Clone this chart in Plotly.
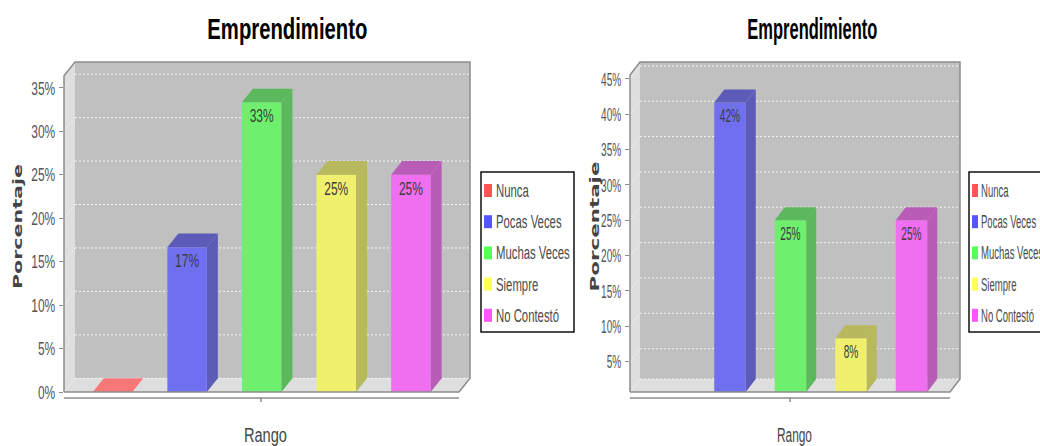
import plotly.graph_objects as go

categories = ["Nunca", "Pocas Veces", "Muchas Veces", "Siempre", "No Contestó"]
values_left = [0, 16.67, 33.33, 25, 25]
values_right = [0, 41.67, 25, 8.33, 25]
labels_left = ["", "17%", "33%", "25%", "25%"]
labels_right = ["", "42%", "25%", "8%", "25%"]
ticks_left = [0, 5, 10, 15, 20, 25, 30, 35]
ticks_right = [5, 10, 15, 20, 25, 30, 35, 40, 45]
chart_title = "Emprendimiento"
y_title = "Porcentaje"
x_title = "Rango"

front = ["#f87878", "#6f6ff0", "#6ef06e", "#f0f06e", "#f06ef0"]
shade = ["#b85c5c", "#5c5cb8", "#5cb85c", "#b8b85c", "#b85cb8"]
swatch = ["#ff5555", "#5555ff", "#55ff55", "#ffff55", "#ff55ff"]

W, H = 1040, 446
FONT = "Liberation Sans"


def px(x):
    return x / W


def py(y):
    return 1 - y / H


fig = go.Figure()


def poly(pts):
    return "M" + "L".join(f"{px(a)},{py(b)}" for a, b in pts) + "Z"


def paper(**kw):
    return dict(xref="paper", yref="paper", **kw)


def panel(n, vals, labels, ticks, cfg):
    xa, ya = ("x", "y") if n == 1 else (f"x{n}", f"y{n}")
    axx, axy = ("xaxis", "yaxis") if n == 1 else (f"xaxis{n}", f"yaxis{n}")
    L, R, T, B = cfg["L"], cfg["R"], cfg["T"], cfg["B"]
    ddx, ddy = cfg["ddx"], cfg["ddy"]
    lo = cfg["lo"]
    ppu = cfg["ppu"]
    pitch = cfg["pitch"]
    c0 = cfg["c0"]
    bw = cfg["bw"] / pitch
    dx, dy = ddx / pitch, ddy / ppu
    xr = [(L - c0) / pitch, (R - c0) / pitch]
    yr = [lo, lo + (B - T) / ppu]

    shapes = [
        paper(type="path", path=poly([(L + ddx, T), (R, T), (R, B - ddy), (L + ddx, B - ddy)]),
              fillcolor="#c0c0c0", line=dict(width=0), layer="below"),
        paper(type="path", path=poly([(L, T + ddy), (L + ddx, T), (L + ddx, B - ddy), (L, B)]),
              fillcolor="#dedede", line=dict(width=0), layer="below"),
        paper(type="path", path=poly([(L, B), (L + ddx, B - ddy), (R, B - ddy), (R - ddx, B)]),
              fillcolor="#dedede", line=dict(width=0), layer="below"),
    ]
    grid = list(ticks)
    if lo > 0:
        grid = [lo] + grid
    for t in grid:
        shapes.append(dict(type="line", xref=xa, yref=ya, x0=xr[0] + dx, x1=xr[1], y0=t + dy, y1=t + dy,
                           line=dict(color="#f4f4f4", width=1, dash="2px,2px"), layer="below"))
        shapes.append(dict(type="line", xref=xa, yref=ya, x0=xr[0], x1=xr[0] + dx, y0=t, y1=t + dy,
                           line=dict(color="#f4f4f4", width=1, dash="2px,2px"), layer="below"))
    frame = [
        [(L, B), (L, T + ddy), (L + ddx, T), (R, T), (R, B - ddy), (R - ddx, B), (L, B)],
        [(L, B + 6), (R - ddx, B + 6)],
        [(cfg["tick"], B + 6), (cfg["tick"], B + 10)],
    ]
    for pts in frame:
        path = "M" + "L".join(f"{px(a)},{py(b)}" for a, b in pts)
        shapes.append(paper(type="path", path=path, line=dict(color="#8c8c8c", width=1.5), layer="above"))

    fig.add_trace(go.Bar(x=list(range(len(vals))), y=vals, width=bw, xaxis=xa, yaxis=ya,
                         marker=dict(color=front, line=dict(width=0)),
                         text=labels, textposition="inside", insidetextanchor="end",
                         textangle=0, constraintext="none", cliponaxis=True,
                         textfont=dict(family=FONT, size=19, color="#3c3c3c"),
                         hovertext=categories, showlegend=False))
    for i, v in enumerate(vals):
        if v < lo:
            continue
        a, b = i - bw / 2, i + bw / 2
        fig.add_trace(go.Scatter(x=[a, a + dx, b + dx, b, a], y=[v, v + dy, v + dy, v, v],
                                 fill="toself", fillcolor=shade[i] if v > 0 else front[i],
                                 mode="none", xaxis=xa, yaxis=ya, showlegend=False, hoverinfo="skip"))
        if v > 0:
            fig.add_trace(go.Scatter(x=[b, b + dx, b + dx, b, b], y=[lo, lo + dy, v + dy, v, lo],
                                     fill="toself", fillcolor=shade[i], mode="none",
                                     xaxis=xa, yaxis=ya, showlegend=False, hoverinfo="skip"))

    fig.update_layout({
        axx: dict(domain=[px(L), px(R)], range=xr, anchor=ya, showgrid=False, zeroline=False,
                  showticklabels=False, ticks="", showline=False, automargin=False),
        axy: dict(domain=[py(B), py(T)], range=yr, anchor=xa, showgrid=False, zeroline=False,
                  tickvals=ticks, ticktext=[f"{t}%" for t in ticks], ticks="outside", ticklen=4,
                  tickcolor="#8c8c8c", showline=False, automargin=False,
                  tickfont=dict(family=FONT, size=19, color="#555555")),
    })

    lg = cfg["legend"]
    shapes.append(paper(type="rect", x0=px(lg["L"]), x1=px(lg["R"]), y0=py(172), y1=py(332),
                        line=dict(color="#111111", width=1.5), fillcolor="white", layer="below"))
    anns = []
    for i, name in enumerate(categories):
        yc = 191 + i * 31.2
        shapes.append(paper(type="rect", x0=px(lg["L"] + 3), x1=px(lg["L"] + 3 + lg["sw"]),
                            y0=py(yc - 7), y1=py(yc + 6), fillcolor=swatch[i], line=dict(width=0),
                            layer="below"))
        anns.append(paper(x=px(lg["tx"]), y=py(yc), text=name, xanchor="left", yanchor="middle",
                          align="left", showarrow=False,
                          font=dict(family=FONT, size=18, color="#4a4a4a")))
    anns.append(paper(x=px(cfg["tcx"]), y=py(29), text=chart_title, xanchor="center",
                      yanchor="middle", showarrow=False,
                      font=dict(family=FONT, size=30, color="#000000", weight="bold")))
    anns.append(paper(x=px(cfg["xtx"]), y=py(435), text=x_title, xanchor="center", yanchor="middle",
                      showarrow=False, font=dict(family=FONT, size=20, color="#444444")))
    anns.append(paper(x=px(cfg["ytx"]), y=py(227), text=y_title, xanchor="center", yanchor="middle",
                      textangle=-90, showarrow=False,
                      font=dict(family="DejaVu Sans", size=13, color="#444444", weight="bold")))
    return shapes, anns


left_cfg = dict(L=64, R=470, T=62, B=392, ddx=11, ddy=13.7, lo=0, ppu=8.69, pitch=74.6, c0=112.5,
                bw=39.5, tick=261, tcx=287, xtx=265, ytx=17,
                legend=dict(L=481, R=574, sw=8, tx=494))
right_cfg = dict(L=630, R=960, T=62, B=392, ddx=10, ddy=13, lo=0.71, ppu=7.07, pitch=60.5, c0=669.5,
                 bw=31.5, tick=790, tcx=812, xtx=794, ytx=594,
                 legend=dict(L=969, R=1052, sw=6, tx=979))

s1, a1 = panel(1, values_left, labels_left, ticks_left, left_cfg)
s2, a2 = panel(2, values_right, labels_right, ticks_right, right_cfg)

fig.update_layout(width=W, height=H, margin=dict(l=0, r=0, t=0, b=0, autoexpand=False),
                  paper_bgcolor="white", plot_bgcolor="rgba(0,0,0,0)", barmode="overlay",
                  showlegend=False, shapes=s1 + s2, annotations=a1 + a2)

# The reference's lettering is a horizontally squeezed raster: reproduce that on the real text elements.
squeeze = """
document.body.style.margin='0';document.body.style.overflow='hidden';
document.querySelectorAll('svg text').forEach(function(t){
  var s=t.textContent, w=t.getComputedTextLength();
  if(!s||!w)return;
  var r=t.getBoundingClientRect(), right=(r.left+r.right)/2>585, target;
  if(s==='Emprendimiento') target=right?130:160;
  else if(s==='Porcentaje') target=right?130:125;
  else if(s==='Rango') target=right?35:43;
  else target=w*(right?0.53:0.63);
  t.setAttribute('textLength',target);
  t.setAttribute('lengthAdjust','spacingAndGlyphs');
});
"""
fig.write_html("out.html", config=dict(displayModeBar=False), post_script=squeeze)
